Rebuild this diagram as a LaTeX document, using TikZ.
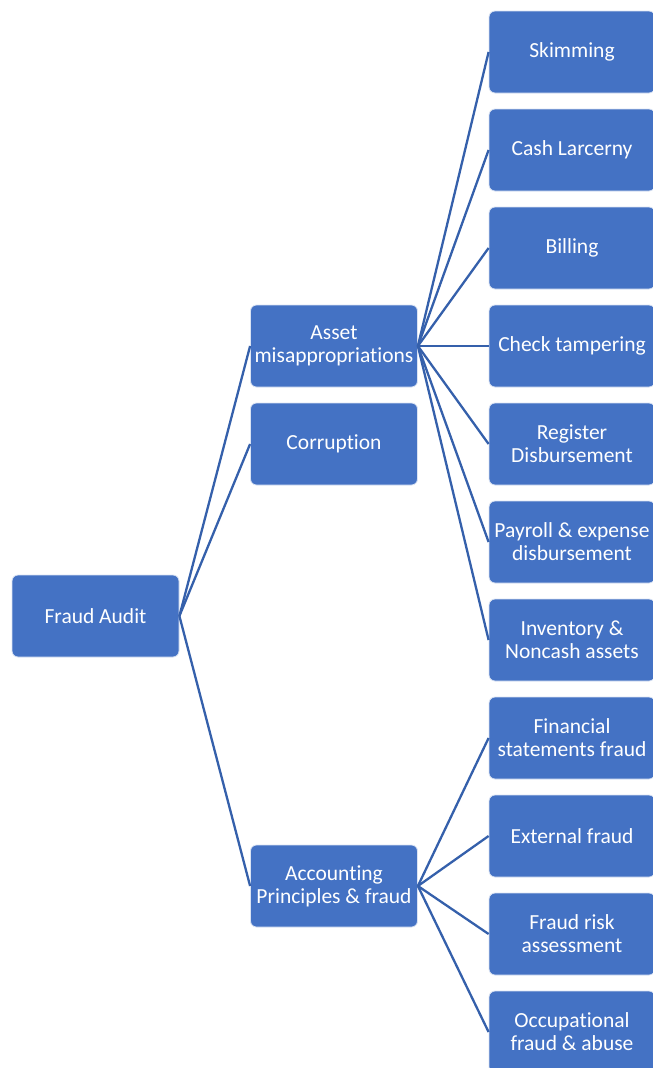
\documentclass[tikz,border=0pt]{standalone}
\usepackage{fontspec}
\setmainfont[Ligatures=NoCommon]{Carlito}
\definecolor{boxblue}{HTML}{4472C4}
\definecolor{lineblue}{HTML}{3560AB}
\begin{document}
\begin{tikzpicture}[x=1pt,y=-1pt,
  box/.style={draw=white!80!boxblue, line width=0.8pt, fill=boxblue, rounded corners=6pt,
    text=white, align=center, inner sep=0pt, font=\fontsize{21.5}{23}\selectfont},
  link/.style={draw=lineblue, line width=2.3pt}]
\useasboundingbox (0,0) rectangle (653,1068);
\begin{scope}
\clip (0,0) rectangle (653,1068);
% root
\node[box, minimum width=167pt, minimum height=82pt] (root) at (95.5,616) {Fraud Audit};
% middle
\node[box, minimum width=167pt, minimum height=82pt] (asset) at (334,346) {Asset\\misappropriations};
\node[box, minimum width=167pt, minimum height=82pt] (corr) at (334,444) {Corruption};
\node[box, minimum width=167pt, minimum height=82pt] (acct) at (334,886) {Accounting\\Principles \& fraud};
% right
\foreach \n/\y/\t in {skim/52/Skimming, cash/150/Cash Larcerny, bill/248/Billing,
  check/346/Check tampering, reg/444/{Register\\Disbursement},
  pay/542/{Payroll \& expense\\disbursement}, inv/640/{Inventory \&\\Noncash assets},
  fin/738/{Financial\\statements fraud}, ext/836/External fraud,
  risk/934/{Fraud risk\\assessment}, occ/1032/{Occupational\\fraud \& abuse}}
  {\node[box, minimum width=166pt, minimum height=82pt] (\n) at (572,\y) {\t};}
% links
\foreach \c in {asset,corr,acct} \draw[link] (root.east) -- (\c.west);
\foreach \c in {skim,cash,bill,check,reg,pay,inv} \draw[link] (asset.east) -- (\c.west);
\foreach \c in {fin,ext,risk,occ} \draw[link] (acct.east) -- (\c.west);
\end{scope}
\end{tikzpicture}
\end{document}
